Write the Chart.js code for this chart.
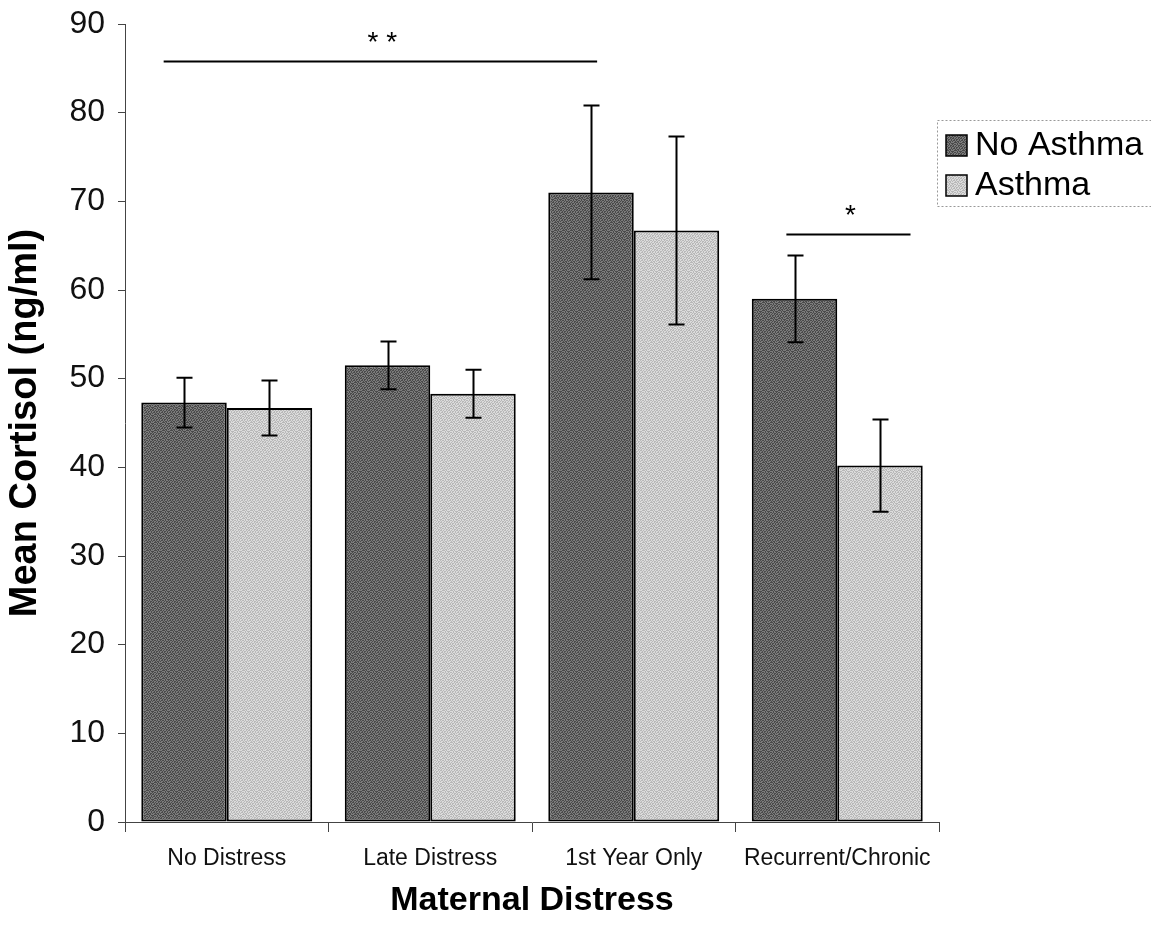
<!DOCTYPE html>
<html>
<head>
<meta charset="utf-8">
<script src="https://cdn.jsdelivr.net/npm/chart.js@4.4.0/dist/chart.umd.min.js"></script>
<style>
  html, body { margin: 0; padding: 0; background: #fff; }
  #wrap { position: relative; width: 1151px; height: 926px; }
</style>
</head>
<body>
<div id="wrap"><canvas id="c" width="1151" height="926"></canvas></div>
<script>
// ---- data ----
const categories = ["No Distress", "Late Distress", "1st Year Only", "Recurrent/Chronic"];
const seriesNames = ["No Asthma", "Asthma"];
const noAsthma = [47.3, 51.5, 71.0, 59.0];
const asthma = [46.7, 48.3, 66.7, 40.2];
const noAsthmaErr = [2.8, 2.7, 9.8, 4.9];
const asthmaErr = [3.1, 2.7, 10.6, 5.2];
const yTicks = [0, 10, 20, 30, 40, 50, 60, 70, 80, 90];
const sigLabels = ["* *", "*"];
const sigLevels = [85.8, 66.3];

// ---- styling / annotation geometry (category units) ----
const sigSpans = [[-0.31, 1.82], [2.75, 3.36]];
const FONT = '"Liberation Sans", Arial, sans-serif';

// fixed halftone-like texture (style only)
const DITHER = [
  "10110100", "01001011", "11010010", "00101101",
  "01101001", "10010110", "00111010", "11000101"
];
function makePattern(c1, c2) {
  const cv = document.createElement('canvas');
  cv.width = 8; cv.height = 8;
  const g = cv.getContext('2d');
  for (let r = 0; r < 8; r++) for (let k = 0; k < 8; k++) {
    g.fillStyle = DITHER[r][k] === '1' ? c1 : c2;
    g.fillRect(k, r, 1, 1);
  }
  return g.createPattern(cv, 'repeat');
}
const fills = [makePattern('#4a4a4a', '#7c7c7c'), makePattern('#b8b8b8', '#dcdcdc')];
const errs = [noAsthmaErr, asthmaErr];

const errorBarPlugin = {
  id: 'errorBars',
  afterDatasetsDraw(chart) {
    const ctx = chart.ctx, y = chart.scales.y;
    ctx.save();
    ctx.strokeStyle = '#000';
    ctx.lineWidth = 2;
    chart.data.datasets.forEach((ds, di) => {
      const meta = chart.getDatasetMeta(di);
      meta.data.forEach((bar, i) => {
        const v = ds.data[i], e = errs[di][i];
        const x = Math.round(bar.x) + 0.5;
        const yt = y.getPixelForValue(v + e), yb = y.getPixelForValue(v - e);
        ctx.beginPath();
        ctx.moveTo(x, yt); ctx.lineTo(x, yb);
        ctx.moveTo(x - 8, yt); ctx.lineTo(x + 8, yt);
        ctx.moveTo(x - 8, yb); ctx.lineTo(x + 8, yb);
        ctx.stroke();
      });
    });
    // significance lines
    const xs = chart.scales.x;
    const cw = xs.getPixelForValue(1) - xs.getPixelForValue(0);
    ctx.lineWidth = 2;
    ctx.fillStyle = '#000';
    ctx.font = '28px ' + FONT;
    ctx.textAlign = 'center';
    ctx.textBaseline = 'middle';
    sigLevels.forEach((lv, k) => {
      const x0 = xs.getPixelForValue(0) + sigSpans[k][0] * cw;
      const x1 = xs.getPixelForValue(0) + sigSpans[k][1] * cw;
      const py = Math.round(y.getPixelForValue(lv)) + 0.5;
      ctx.beginPath(); ctx.moveTo(x0, py); ctx.lineTo(x1, py); ctx.stroke();
      ctx.fillText(sigLabels[k], (x0 + x1) / 2 + 2, py - 18);
    });
    ctx.restore();
  }
};

const legendPlugin = {
  id: 'customLegend',
  afterDraw(chart) {
    const ctx = chart.ctx;
    ctx.save();
    const lx = 937, ly = 120, lw = 220, lh = 86;
    ctx.strokeStyle = '#999';
    ctx.lineWidth = 1;
    ctx.setLineDash([2, 2]);
    ctx.strokeRect(lx + 0.5, ly + 0.5, lw, lh);
    ctx.setLineDash([]);
    ctx.font = '34px ' + FONT;
    ctx.textBaseline = 'middle';
    ctx.textAlign = 'left';
    seriesNames.forEach((n, i) => {
      const cy = ly + 25 + i * 40;
      ctx.fillStyle = fills[i];
      ctx.fillRect(946, cy - 10, 21, 21);
      ctx.strokeStyle = '#000';
      ctx.lineWidth = 1.5;
      ctx.strokeRect(946, cy - 10, 21, 21);
      ctx.fillStyle = '#000';
      ctx.fillText(n, 975, cy + 1);
    });
    ctx.restore();
  }
};

new Chart(document.getElementById('c'), {
  type: 'bar',
  data: {
    labels: categories,
    datasets: [
      { label: seriesNames[0], data: noAsthma, backgroundColor: fills[0], borderColor: '#000', borderWidth: 2, borderSkipped: false },
      { label: seriesNames[1], data: asthma, backgroundColor: fills[1], borderColor: '#000', borderWidth: 2, borderSkipped: false }
    ]
  },
  options: {
    responsive: false,
    animation: false,
    layout: { padding: { top: 24, right: 212, left: 0, bottom: 0 } },
    plugins: { legend: { display: false }, tooltip: { enabled: false } },
    datasets: { bar: { categoryPercentage: 0.84, barPercentage: 1.0 } },
    scales: {
      y: {
        min: 0, max: 90,
        afterFit(s) { s.width = 125; s.paddingTop = 0; s.paddingBottom = 0; },
        afterBuildTicks(s) { s.ticks = yTicks.map(v => ({ value: v })); },
        border: { display: true, color: '#444', width: 1 },
        grid: { drawOnChartArea: false, drawTicks: true, tickLength: 7, color: '#444' },
        ticks: { color: '#111', padding: 13, font: { family: FONT, size: 32 } },
        title: { display: true, text: 'Mean Cortisol (ng/ml)', color: '#000', padding: { top: 3, bottom: 0 },
          font: { family: FONT, size: 38, weight: 'bold' } }
      },
      x: {
        afterFit(s) { s.height = 104; s.paddingLeft = 0; s.paddingRight = 0; },
        border: { display: true, color: '#444', width: 1 },
        grid: { drawOnChartArea: false, drawTicks: true, tickLength: 10, color: '#444', offset: true },
        ticks: { color: '#111', padding: 13, font: { family: FONT, size: 23 } },
        title: { display: true, text: 'Maternal Distress', color: '#000', padding: { top: 0, bottom: 5 },
          font: { family: FONT, size: 34, weight: 'bold' } }
      }
    }
  },
  plugins: [errorBarPlugin, legendPlugin]
});
</script>
</body>
</html>
